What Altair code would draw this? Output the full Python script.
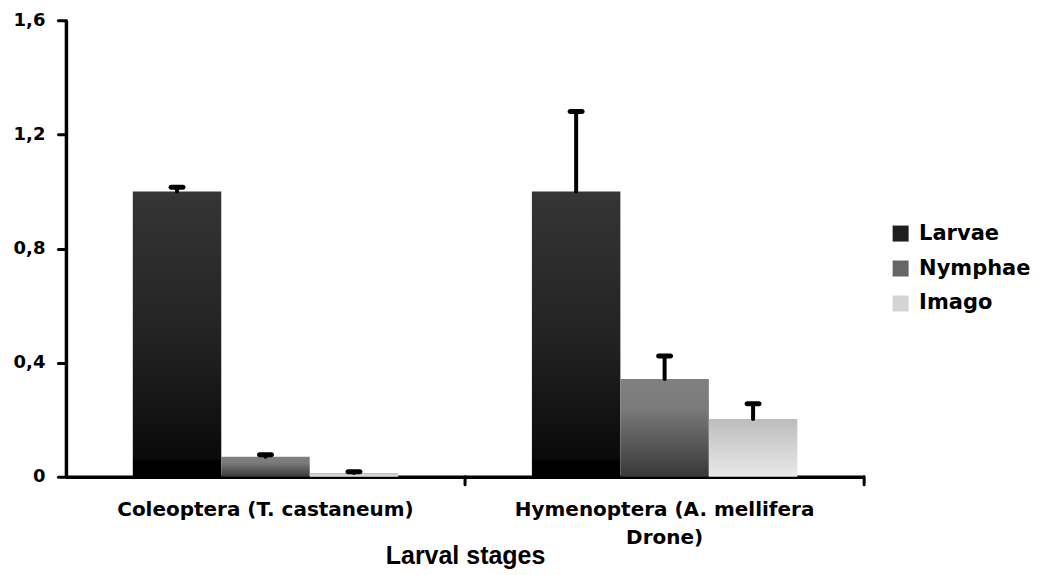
import altair as alt
import pandas as pd

categories = ["Coleoptera (T. castaneum)", "Hymenoptera (A. mellifera Drone)"]
label_lines = [["Coleoptera (T. castaneum)"], ["Hymenoptera (A. mellifera", "Drone)"]]
stages = ["Larvae", "Nymphae", "Imago"]
larvae = [1.0, 1.0]
nymphae = [0.070, 0.343]
imago = [0.013, 0.203]
larvae_err = [0.015, 0.280]
nymphae_err = [0.007, 0.080]
imago_err = [0.005, 0.053]
y_ticks = [0, 0.4, 0.8, 1.2, 1.6]

vals = {"Larvae": larvae, "Nymphae": nymphae, "Imago": imago}
errs = {"Larvae": larvae_err, "Nymphae": nymphae_err, "Imago": imago_err}
rows = []
for i, c in enumerate(categories):
    for s in stages:
        v = vals[s][i]
        e = errs[s][i]
        rows.append({"cat": c, "stage": s, "value": v, "err": e, "top": v + e})
df = pd.DataFrame(rows)
cat_df = pd.DataFrame({"cat": categories})

W, H = 799, 457
PAD_INNER = 0.335
PAD_OUTER = PAD_INNER / 2
STEP = W / (len(categories) - PAD_INNER + 2 * PAD_OUTER)
HALF_GAP = PAD_INNER * STEP / 2


def grad(stops):
    return alt.Gradient(
        gradient="linear", x1=0, y1=0, x2=0, y2=1,
        stops=[alt.GradientStop(offset=o, color=c) for o, c in stops],
    )


fills = {
    "Larvae": grad([(0, "#353535"), (0.5, "#232323"), (0.935, "#0a0a0a"), (0.945, "#000000"), (1, "#000000")]),
    "Nymphae": grad([(0, "#808080"), (0.3, "#7a7a7a"), (1, "#383838")]),
    "Imago": grad([(0, "#bdbdbd"), (1, "#e9e9e9")]),
}
legend_colors = ["#1e1e1e", "#666666", "#d4d4d4"]

label_expr = " : ".join(
    f"datum.value == '{c}' ? {lines!r}" for c, lines in zip(categories, label_lines)
) + " : datum.value"

x_scale = alt.Scale(domain=categories, paddingInner=PAD_INNER, paddingOuter=PAD_OUTER)
x_enc = alt.X(
    "cat:N",
    sort=categories,
    scale=x_scale,
    axis=alt.Axis(
        title="Larval stages",
        labelAngle=0,
        labelExpr=label_expr,
        labelFont="DejaVu Sans",
        labelFontWeight="bold",
        labelFontSize=20,
        labelColor="black",
        labelLimit=0,
        labelPadding=23,
        labelLineHeight=28,
        ticks=False,
        domainColor="black",
        domainWidth=3.5,
        titleFont="Liberation Sans Narrow, Liberation Sans",
        titleFontSize=25,
        titleFontWeight="bold",
        titleColor="black",
        titleY=87,
        titleBaseline="alphabetic",
    ),
)
xo_enc = alt.XOffset("stage:N", scale=alt.Scale(domain=stages, paddingInner=0, paddingOuter=0))
y_scale = alt.Scale(domain=[0, 1.6], nice=False, zero=True)
y_enc = alt.Y(
    "value:Q",
    scale=y_scale,
    axis=alt.Axis(
        title=None,
        values=y_ticks,
        grid=False,
        labelExpr="datum.value == 0 ? '0' : replace(format(datum.value, '.1f'), '.', ',')",
        labelFont="DejaVu Sans",
        labelFontWeight="bold",
        labelFontSize=18,
        labelColor="black",
        labelPadding=13,
        tickSize=8,
        tickWidth=3,
        tickCap="round",
        tickColor="black",
        domainColor="black",
        domainWidth=3.5,
    ),
)

base = alt.Chart(df)

bars = [
    base.transform_filter(alt.datum.stage == s)
    .mark_bar(fill=fills[s])
    .encode(x=x_enc, xOffset=xo_enc, y=y_enc)
    for s in stages
]

err_rule = base.mark_rule(color="black", strokeWidth=4, strokeCap="round").encode(
    x=x_enc, xOffset=xo_enc, y=alt.Y("value:Q", scale=y_scale), y2="top:Q"
)
err_cap = base.mark_tick(color="black", opacity=1, thickness=5, size=17, cornerRadius=2.5).encode(
    x=x_enc, xOffset=xo_enc, y=alt.Y("top:Q", scale=y_scale)
)

# category-boundary ticks on the x axis (at the end of each category step)
x_ticks = alt.Chart(cat_df).mark_rule(
    color="black", strokeWidth=3, strokeCap="round", xOffset=HALF_GAP
).encode(
    x=alt.X("cat:N", sort=categories, scale=x_scale, bandPosition=1),
    y=alt.Y(datum=0, scale=y_scale),
    y2=alt.value(H + 8),
)

legend_layer = base.mark_square(opacity=0, size=10).encode(
    x=x_enc,
    xOffset=xo_enc,
    y=alt.Y("value:Q", scale=y_scale),
    color=alt.Color(
        "stage:N",
        scale=alt.Scale(domain=stages, range=legend_colors),
        legend=alt.Legend(
            title=None,
            orient="none",
            legendX=825,
            legendY=203,
            symbolType="square",
            symbolSize=256,
            symbolOpacity=1,
            symbolStrokeWidth=0,
            labelFont="DejaVu Sans",
            labelFontWeight="bold",
            labelFontSize=21,
            labelColor="black",
            labelOffset=8,
            rowPadding=13,
        ),
    ),
)

chart = (
    alt.layer(*bars, err_rule, err_cap, x_ticks, legend_layer)
    .properties(
        width=W,
        height=H,
        background="white",
        padding={"top": 3, "left": 5, "right": 0, "bottom": 5},
    )
    .configure_view(stroke=None)
)

chart.save("out.html", embed_options={"renderer": "svg", "actions": False})
